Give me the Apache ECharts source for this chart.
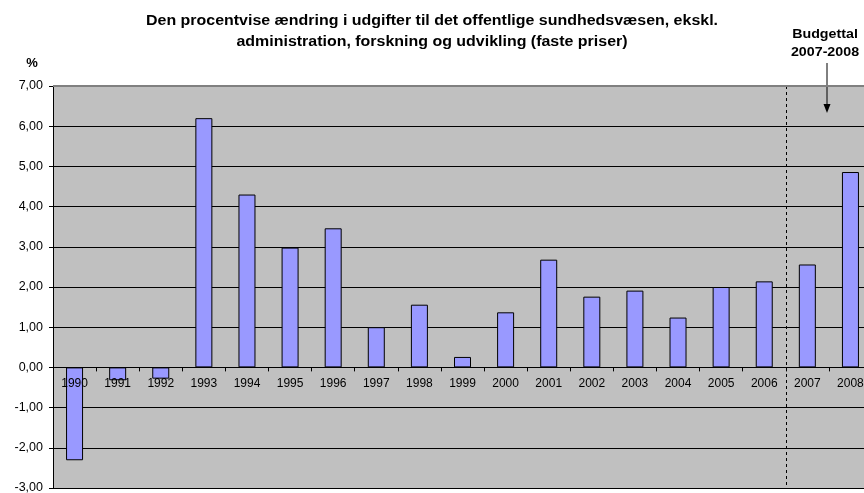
<!DOCTYPE html>
<html>
<head>
<meta charset="utf-8">
<script src="https://cdn.jsdelivr.net/npm/echarts@6/dist/echarts.min.js"></script>
<style>
  html, body { margin: 0; padding: 0; background: #fff; }
  #chart { width: 864px; height: 493px; }
</style>
</head>
<body>
<div id="chart"></div>
<script>
// år og procentvis ændring
const years = ["1990", "1991", "1992", "1993", "1994", "1995", "1996", "1997", "1998", "1999",
  "2000", "2001", "2002", "2003", "2004", "2005", "2006", "2007", "2008"];
const values = [-2.31, -0.32, -0.28, 6.2, 4.3, 2.98, 3.46, 1.0, 1.56, 0.26,
  1.37, 2.68, 1.76, 1.91, 1.24, 2.0, 2.14, 2.56, 4.86];
// skillelinje mellem regnskab og budget (mellem 2006 og 2007)
const budgetSplit = ["2006", "2007"];

const FONT = "Liberation Sans, Arial, sans-serif";
const yMin = -3, yMax = 7;
const gridTop = 86, gridBottom = 5, chartH = 493;
// flyt x-aksen op til nul-linjen
const plotH = chartH - gridTop - gridBottom;
const zeroOffset = -(plotH * (0 - yMin) / (yMax - yMin));

const chart = echarts.init(document.getElementById("chart"));

const options = {
  backgroundColor: "#fff",
  animation: false,
  textStyle: { fontFamily: FONT },
  grid: {
    left: 53, right: -8, top: gridTop, bottom: gridBottom,
    show: true, backgroundColor: "#c0c0c0", borderWidth: 0,
    outerBoundsMode: "none", containLabel: false,
  },
  xAxis: {
    type: "category",
    data: years,
    z: 10,
    offset: zeroOffset,
    axisLine: { onZero: false, lineStyle: { color: "#000", width: 1 } },
    axisTick: { show: true, alignWithLabel: false, length: 4, lineStyle: { color: "#000" } },
    axisLabel: { color: "#000", fontSize: 12, margin: 10, interval: 0 },
    splitLine: { show: false },
  },
  yAxis: {
    type: "value",
    min: yMin,
    max: yMax,
    interval: 1,
    axisLine: { show: true, onZero: false, lineStyle: { color: "#000" } },
    axisTick: { show: true, length: 4, lineStyle: { color: "#000" } },
    axisLabel: {
      color: "#000",
      fontSize: 12.5,
      margin: 10,
      formatter: (v) => v.toFixed(2).replace(".", ","),
    },
    splitLine: { show: true, lineStyle: { color: "#000", width: 1 } },
  },
  series: [
    {
      type: "bar",
      data: values,
      barWidth: 17,
      itemStyle: { color: "#9999ff", borderColor: "#000", borderWidth: 1 },
    },
  ],
  graphic: [
    // titel (strakt lidt i bredden som i originalen)
    {
      id: "title",
      type: "text",
      x: 432, y: 31.5, scaleX: 1.14,
      style: {
        text: "Den procentvise ændring i udgifter til det offentlige sundhedsvæsen, ekskl.\nadministration, forskning og udvikling (faste priser)",
        textAlign: "center", textVerticalAlign: "middle",
        font: "bold 14px " + FONT, lineHeight: 21, fill: "#000",
      },
    },
    {
      id: "unit",
      type: "text",
      x: 32, y: 63,
      style: { text: "%", textAlign: "center", textVerticalAlign: "middle", font: "bold 13px " + FONT, fill: "#000" },
    },
    {
      id: "budgetText",
      type: "text",
      x: 825, y: 44, scaleX: 1.14,
      style: {
        text: "Budgettal\n2007-2008",
        textAlign: "center", textVerticalAlign: "middle",
        font: "bold 12.5px " + FONT, lineHeight: 18, fill: "#000",
      },
    },
    {
      id: "arrowLine",
      type: "line",
      shape: { x1: 827, y1: 63, x2: 827, y2: 106 },
      style: { stroke: "#000", lineWidth: 1 },
      z: 20,
    },
    {
      id: "arrowHead",
      type: "polygon",
      shape: { points: [[823.5, 104], [830.5, 104], [827, 113]] },
      style: { fill: "#000" },
      z: 20,
    },
    {
      id: "topBorder",
      type: "line",
      shape: { x1: 53, y1: 86, x2: 864, y2: 86 },
      style: { stroke: "#808080", lineWidth: 2 },
      z: 20,
    },
  ],
};

chart.setOption(options);

// stiplet skillelinje midt mellem 2006 og 2007, beregnet via aksens skala
const xa = chart.convertToPixel({ xAxisIndex: 0 }, budgetSplit[0]);
const xb = chart.convertToPixel({ xAxisIndex: 0 }, budgetSplit[1]);
const xSplit = Math.round((xa + xb) / 2) + 0.5;
const yTop = chart.convertToPixel({ yAxisIndex: 0 }, yMax);
const yBottom = chart.convertToPixel({ yAxisIndex: 0 }, yMin);
chart.setOption({
  graphic: [
    {
      id: "splitLine",
      type: "line",
      shape: { x1: xSplit, y1: yTop, x2: xSplit, y2: yBottom },
      style: { stroke: "#000", lineWidth: 1, lineDash: [3, 3] },
      z: 15,
    },
  ],
});
</script>
</body>
</html>
